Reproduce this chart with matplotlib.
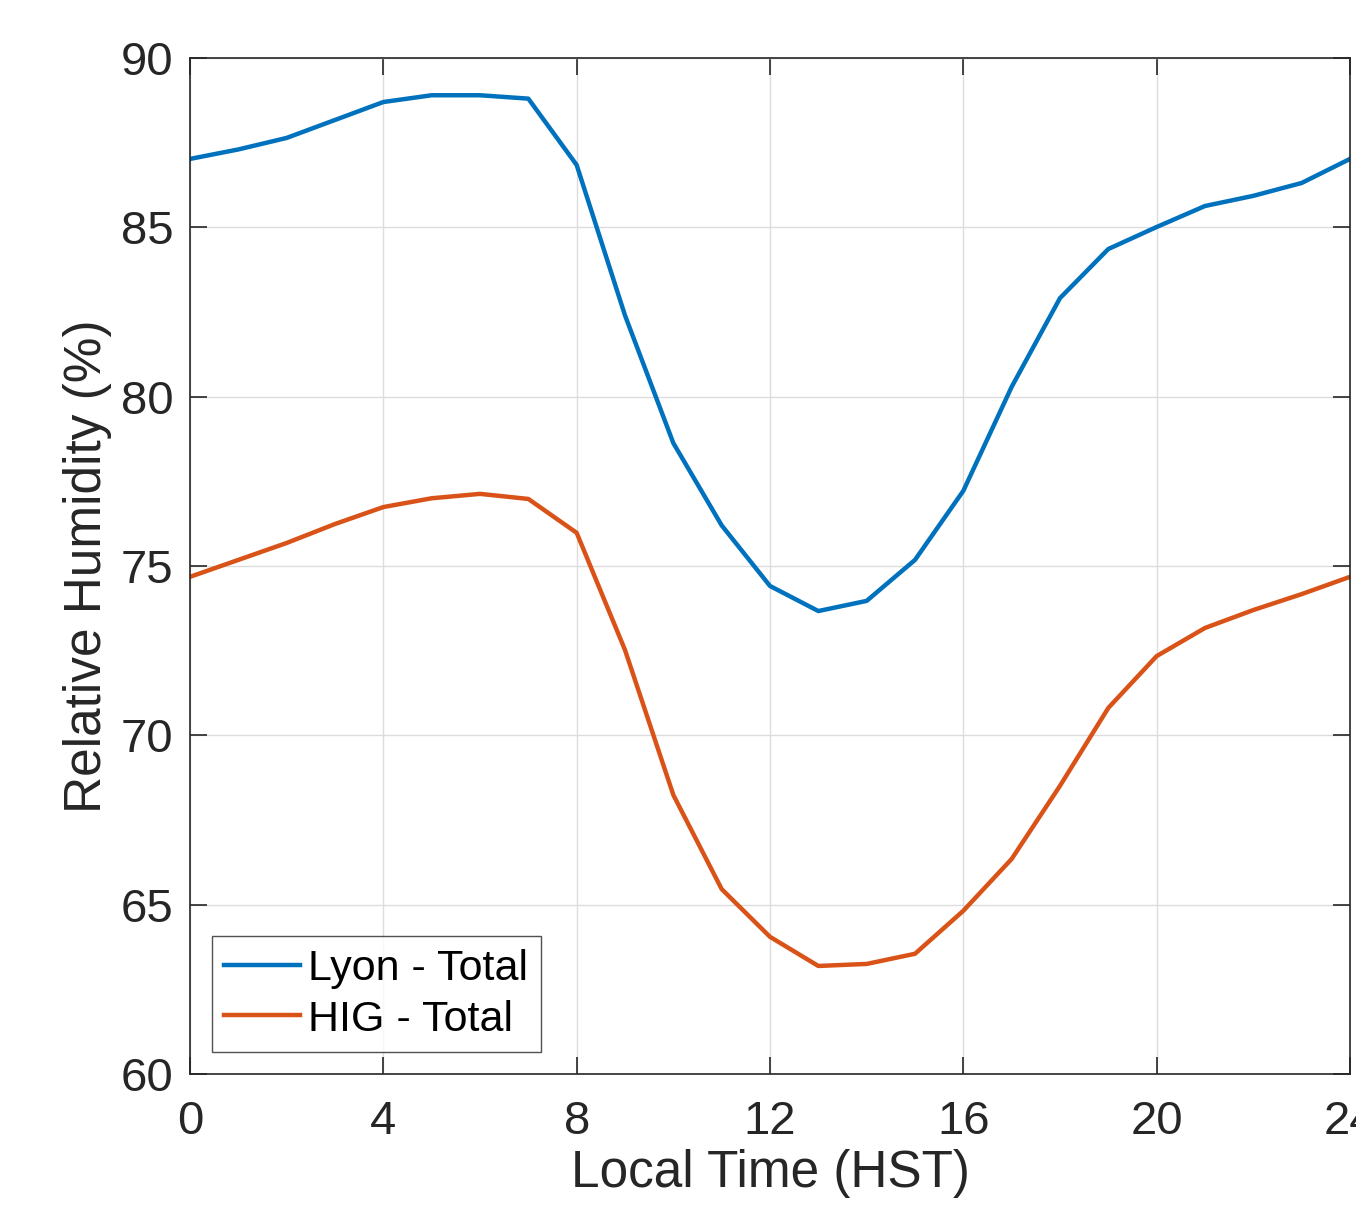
import numpy as np
import matplotlib.pyplot as plt

plt.rcParams['font.family'] = ['Liberation Sans', 'DejaVu Sans']

# ===================== data =====================
hours = list(range(0, 25))
lyon_total = [87.02, 87.30, 87.64, 88.17, 88.70, 88.90, 88.90, 88.80, 86.84,
              82.40, 78.63, 76.20, 74.41, 73.67, 73.97, 75.18, 77.22, 80.29,
              82.91, 84.36, 85.01, 85.63, 85.93, 86.31, 87.02]
hig_total = [74.68, 75.18, 75.68, 76.24, 76.74, 77.00, 77.13, 76.98, 75.98,
             72.52, 68.24, 65.46, 64.05, 63.19, 63.25, 63.55, 64.82, 66.35,
             68.51, 70.81, 72.34, 73.17, 73.70, 74.17, 74.68]
x_ticks = [0, 4, 8, 12, 16, 20, 24]
y_ticks = [60, 65, 70, 75, 80, 85, 90]

fig = plt.figure(figsize=(13.56, 12.06), dpi=100)
ax = fig.add_axes([190 / 1356, 1 - 1074 / 1206, 1160 / 1356, 1016 / 1206])

ax.plot(hours, lyon_total, color='#0072BD', lw=3.2, label='Lyon - Total')
ax.plot(hours, hig_total, color='#D95319', lw=3.2, label='HIG - Total')

ax.set_xlim(0, 24)
ax.set_ylim(60, 90)
ax.set_xticks(x_ticks)
ax.set_yticks(y_ticks)
ax.grid(True, color='#dcdcdc', lw=1.0)
ax.set_axisbelow(True)

ax.tick_params(direction='in', length=12, width=1.2, colors='#262626',
               labelsize=34, top=True, right=True)
ax.tick_params(axis='x', pad=19)
ax.tick_params(axis='y', pad=12)
for sp in ax.spines.values():
    sp.set_color('#262626')
    sp.set_linewidth(1.2)

ax.set_xlabel('Local Time (HST)', fontsize=37, color='#262626', labelpad=3)
ax.set_ylabel('Relative Humidity (%)', fontsize=37, color='#262626', labelpad=6)

leg = ax.legend(loc='lower left', fontsize=31, frameon=True, fancybox=False,
                edgecolor='#262626', handlelength=1.75, handletextpad=0.2,
                borderpad=0.3, labelspacing=0.25, borderaxespad=0.5)
leg.get_frame().set_linewidth(1.0)

fig.savefig('out.png', dpi=100)
